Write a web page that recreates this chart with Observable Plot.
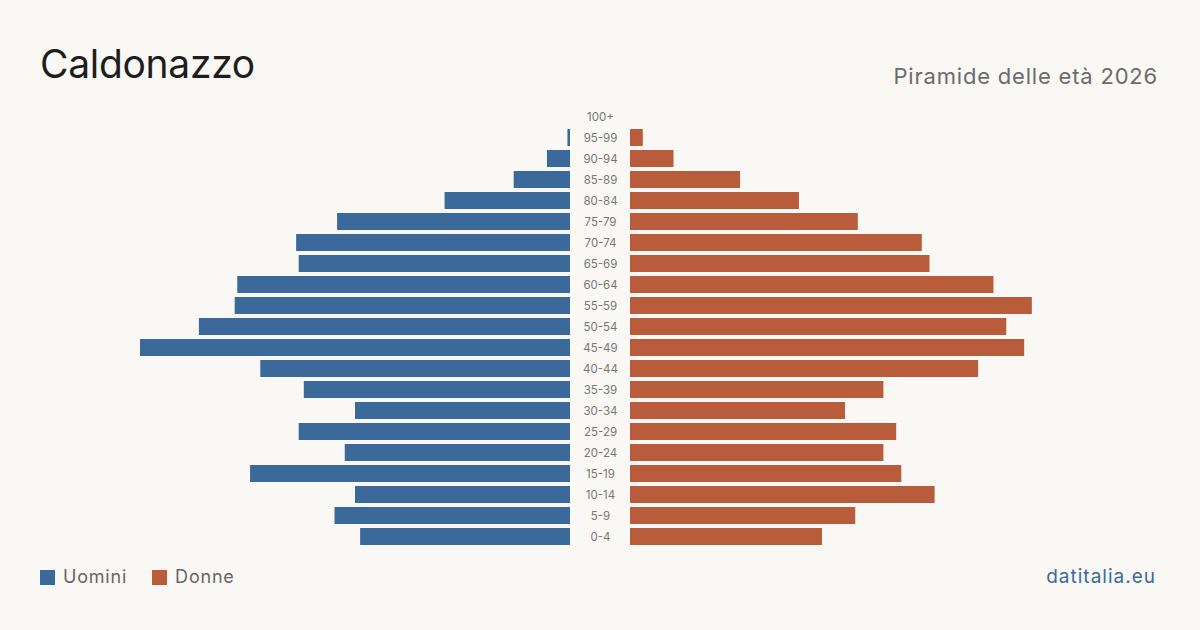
<!DOCTYPE html>
<html>
<head>
<meta charset="utf-8">
<script src="https://cdn.jsdelivr.net/npm/d3@7"></script>
<script src="https://cdn.jsdelivr.net/npm/@observablehq/plot@0.6"></script>
<style>
  html, body { margin: 0; padding: 0; background: #f9f8f4; }
  body { font-family: Inter, "Noto Sans", sans-serif; }
  #page { position: relative; width: 1200px; height: 630px; overflow: hidden; }
  #chart { position: absolute; left: 0; top: 0; }
  #title { position: absolute; left: 40px; top: 44px; font-size: 39px; line-height: 1; color: #1e1e1e; letter-spacing: -0.3px; }
  #subtitle { position: absolute; right: 42px; top: 65px; font-size: 22px; line-height: 1; color: #6b6b6b; letter-spacing: 0.8px; }
  #legend { position: absolute; left: 40px; top: 568px; display: flex; align-items: center; font-size: 18px; line-height: 1; color: #666; letter-spacing: 0.8px; }
  #legend .sw { display: inline-block; width: 15px; height: 15px; margin-right: 8px; }
  #legend .item { display: flex; align-items: center; margin-right: 25px; }
  #source { position: absolute; right: 44px; top: 567px; font-size: 19px; line-height: 1; color: #3b6a9a; letter-spacing: 1px; }
</style>
</head>
<body>
<div id="page">
  <div id="chart"></div>
  <div id="title">Caldonazzo</div>
  <div id="subtitle">Piramide delle età 2026</div>
  <div id="legend"></div>
  <div id="source">datitalia.eu</div>
</div>
<script>
// Age classes, youngest first
const ageGroups = ["0-4", "5-9", "10-14", "15-19", "20-24", "25-29", "30-34", "35-39", "40-44", "45-49",
  "50-54", "55-59", "60-64", "65-69", "70-74", "75-79", "80-84", "85-89", "90-94", "95-99", "100+"];

// Residents by age class
const maleCounts   = [82, 92, 84, 125, 88, 106, 84, 104, 121, 168, 145, 131, 130, 106, 107, 91, 49, 22, 9, 1, 0];
const femaleCounts = [75, 88, 119, 106, 99, 104, 84, 99, 136, 154, 147, 157, 142, 117, 114, 89, 66, 43, 17, 5, 0];

const seriesNames = ["Uomini", "Donne"];
const seriesColors = ["#3b6a9a", "#b95c3c"];

const rows = ageGroups.map((age, i) => ({ age, male: maleCounts[i], female: femaleCounts[i] }));

// The two halves share one x scale; a central strip holds the age labels.
const maxCount = d3.max([...maleCounts, ...femaleCounts]);
const halfGapPx = 30;
const barSpanPx = 430;
const gap = maxCount * halfGapPx / barSpanPx;
const limit = maxCount + gap;

const chart = Plot.plot({
  width: 1200,
  height: 630,
  marginLeft: 140,
  marginRight: 140,
  marginTop: 106,
  marginBottom: 83,
  style: { background: "transparent", fontFamily: "Inter, 'Noto Sans', sans-serif", fontSize: "11.5px" },
  x: { domain: [-limit, limit], axis: null },
  y: { domain: ageGroups.slice().reverse(), axis: null, paddingInner: 4 / 21, paddingOuter: 2 / 21 },
  marks: [
    Plot.barX(rows, { y: "age", x1: () => -gap, x2: d => -gap - d.male, fill: seriesColors[0] }),
    Plot.barX(rows, { y: "age", x1: () => gap, x2: d => gap + d.female, fill: seriesColors[1] }),
    Plot.text(rows, { y: "age", x: () => 0, text: "age", fill: "#777", textAnchor: "middle" })
  ]
});
document.getElementById("chart").appendChild(chart);

// Legend
const legend = document.getElementById("legend");
seriesNames.forEach((name, i) => {
  const item = document.createElement("span");
  item.className = "item";
  const sw = document.createElement("span");
  sw.className = "sw";
  sw.style.background = seriesColors[i];
  item.appendChild(sw);
  item.appendChild(document.createTextNode(name));
  legend.appendChild(item);
});
</script>
</body>
</html>
